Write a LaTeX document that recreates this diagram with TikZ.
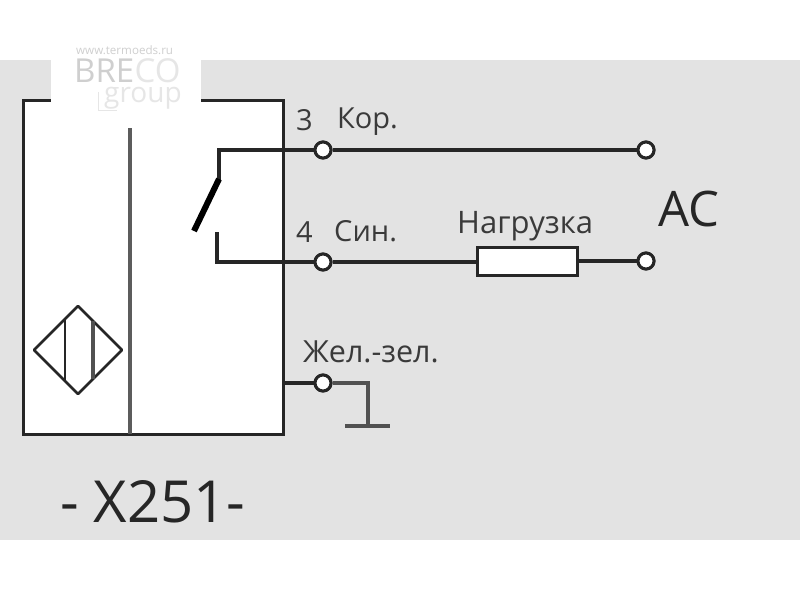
\documentclass[tikz,border=0pt]{standalone}
\usepackage{fontspec}
\setmainfont{Open Sans}
\definecolor{bandgrey}{HTML}{E3E3E3}
\definecolor{inkdark}{HTML}{262626}
\definecolor{inktext}{HTML}{3A3A3A}
\definecolor{wmdark}{HTML}{CFCFCF}
\definecolor{wmlight}{HTML}{E6E6E6}
\tikzset{
  wire/.style={draw=inkdark,line width=3.2pt},
  boxline/.style={draw=inkdark,line width=3pt},
  term/.style={circle,draw=inkdark,line width=3pt,fill=white,minimum size=16pt,inner sep=0pt},
  lab/.style={text=inktext,inner sep=0pt,anchor=base west}
}
\begin{document}
\begin{tikzpicture}[x=1pt,y=-1pt]
\useasboundingbox (0,0) rectangle (800,600);
\fill[white] (0,0) rectangle (800,600);
\fill[bandgrey] (0,60) rectangle (800,540);
% housing
\fill[white] (23,100) rectangle (283,434);
\draw[boxline] (51,100) -- (23,100) -- (23,434) -- (283,434) -- (283,100) -- (201,100);
\fill[white] (51,60) rectangle (201,128);
\draw[boxline,draw=inkdark!75,line width=3.6pt] (130,128) -- (130,434);
% watermark
\node[lab,text=wmdark,font=\fontsize{11.6}{12}\selectfont] at (76,54) {www.termoeds.ru};
\node[lab,text=wmdark,font=\fontsize{33}{33}\selectfont] (wb) at (74,82) {BRE};
\node[lab,text=wmlight,font=\fontsize{33}{33}\selectfont] at (wb.base east) {CO};
\node[lab,text=wmlight,font=\fontsize{28}{28}\selectfont] at (104,102) {group};
\draw[draw=wmlight,line width=0.8pt] (98,92) -- (98,110) -- (117,110);
% sensor symbol
\draw[draw=inkdark,line width=2.6pt,line join=round] (78,306) -- (122,350) -- (78,394) -- (34,350) -- cycle;
\draw[draw=inkdark,line width=2.8pt] (65,319) -- (65,381);
\draw[draw=inkdark!80,line width=3.2pt] (93,321) -- (93,379);
% terminals
\node[term] (t3) at (323,150) {};
\node[term] (t3r) at (646,150) {};
\node[term] (t4) at (323,262) {};
\node[term] (t4r) at (646,261) {};
\node[term] (t5) at (323,383) {};
\node[draw=inkdark,line width=3pt,fill=white,minimum width=100pt,minimum height=28pt,inner sep=0pt] (load) at (527,261) {};
% switch
\coordinate (s1) at (219,150);
\coordinate (s2) at (219,180);
\coordinate (s3) at (217,232);
\coordinate (s4) at (217,262);
\coordinate (sa) at (219,179);
\coordinate (sb) at (194,231);
\draw[wire] (t3) -- (s1) -- (s2);
\draw[wire,line width=3.6pt] (t4) -- (s4) -- (s3);
\draw[draw=black,line width=6pt] (sa) -- (sb);
\draw[wire] (t3) -- (t3r);
\draw[wire,line width=3.6pt] (t4) -- (load.west |- t4);
\draw[wire] (load.east |- t4r) -- (t4r);
% ground
\coordinate (g1) at (283,383);
\coordinate (g2) at (368,383);
\coordinate (g3) at (368,426);
\coordinate (g4) at (345,426);
\coordinate (g5) at (390,426);
\draw[wire] (g1) -- (t5);
\draw[draw=inkdark!80,line width=3.6pt] (t5) -- (g2) -- (g3);
\draw[draw=inkdark!80,line width=3.6pt] (g4) -- (g5);
\node[term] at (t3) {};
\node[term] at (t3r) {};
\node[term] at (t4) {};
\node[term] at (t4r) {};
\node[term] at (t5) {};
% labels
\node[lab,font=\fontsize{29}{29}\selectfont] at (296,130) {3};
\node[lab,font=\fontsize{29}{29}\selectfont] at (337,128) {Кор.};
\node[lab,font=\fontsize{29}{29}\selectfont] at (296,242) {4};
\node[lab,font=\fontsize{29}{29}\selectfont] at (334,241) {Син.};
\node[lab,font=\fontsize{31}{31}\selectfont] at (457,233) {Нагрузка};
\node[lab,text=inkdark,font=\fontsize{49}{49}\selectfont] at (658,226) {AC};
\node[lab,font=\fontsize{30.5}{31}\selectfont] at (303,362) {Жел.-зел.};
\node[lab,text=inkdark,font=\fontsize{58}{58}\selectfont] at (60,522) {- X251-};
\end{tikzpicture}
\end{document}
